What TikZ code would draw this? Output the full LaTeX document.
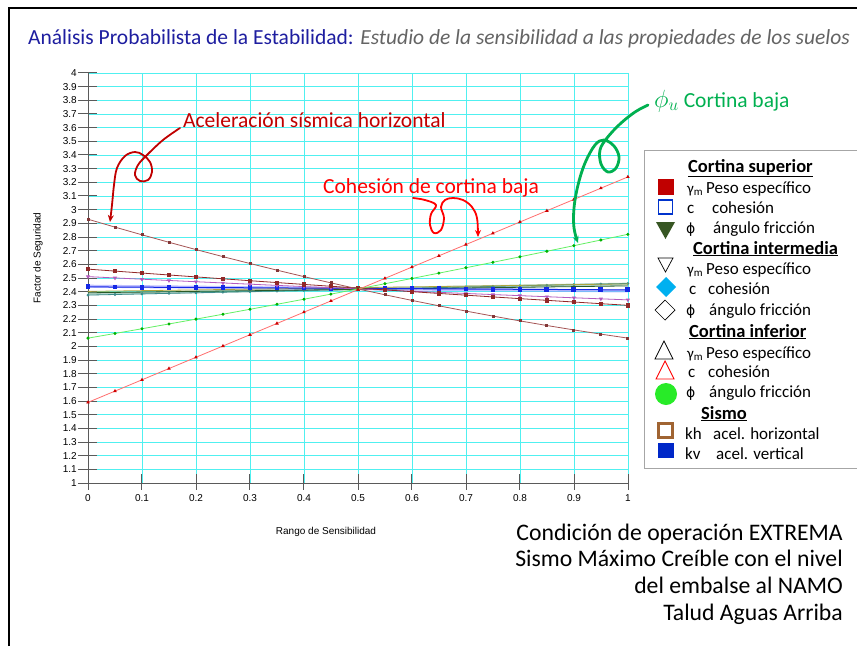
\documentclass[tikz,border=0pt]{standalone}
\usepackage{fontspec}
\setmainfont{Carlito}
\newfontfamily\arialf{Liberation Sans}
\newfontfamily\dejavuf{DejaVu Sans}
\usetikzlibrary{arrows.meta,plotmarks}
\definecolor{titleblue}{RGB}{30,30,160}
\definecolor{titlegray}{RGB}{100,100,100}
\definecolor{dred}{RGB}{192,0,0}
\definecolor{bred}{RGB}{255,0,0}
\definecolor{ogreen}{RGB}{0,176,80}
\definecolor{gridc}{RGB}{80,240,240}
\definecolor{axisc}{RGB}{90,90,90}
\definecolor{khc}{RGB}{165,85,85}
\definecolor{khm}{RGB}{130,55,55}
\definecolor{redl}{RGB}{255,110,110}
\definecolor{greenl}{RGB}{100,240,100}
\definecolor{maroonl}{RGB}{145,40,40}
\definecolor{purplel}{RGB}{180,90,190}
\definecolor{bluel}{RGB}{20,40,230}
\definecolor{lbluel}{RGB}{150,150,255}
\definecolor{teall}{RGB}{60,140,140}
\definecolor{dgreenl}{RGB}{40,90,40}
\definecolor{olivel}{RGB}{175,165,60}
\definecolor{sagel}{RGB}{120,180,160}
\definecolor{legred}{RGB}{192,0,0}
\definecolor{legblue}{RGB}{0,51,204}
\definecolor{legdgreen}{RGB}{55,86,35}
\definecolor{legcyan}{RGB}{0,176,240}
\definecolor{leggreen}{RGB}{40,235,40}
\definecolor{legbrown}{RGB}{160,100,50}
\definecolor{legkv}{RGB}{0,40,200}
\newcommand\gammam{{\fontsize{15}{17}\selectfont γ}{\fontsize{11}{12}\selectfont\raisebox{-2.5pt}{m}}}
\newcommand\phisym{{\dejavuf\fontsize{14}{17}\selectfont ϕ}}
\tikzset{
  gridline/.style={gridc, line width=0.8pt},
  axisline/.style={axisc, line width=1pt},
  ticklabel/.style={font=\arialf\fontsize{10}{11}\selectfont, inner sep=0pt},
  legtxt/.style={font=\fontsize{17}{19}\selectfont, anchor=base west, inner sep=0pt},
  leghead/.style={font=\bfseries\fontsize{18.5}{20}\selectfont, anchor=base west, inner sep=0pt},
  annot/.style={font=\fontsize{21.5}{24}\selectfont, anchor=base west, inner sep=0pt},
  condtxt/.style={font=\fontsize{23.7}{27}\selectfont, anchor=base east, inner sep=0pt},
  dataline/.style={line width=0.8pt},
  handarrow/.style={line width=1.8pt, line cap=round, line join=round, -{Stealth[length=7pt,width=6pt]}},
}
\begin{document}
\begin{tikzpicture}[x=1pt,y=-1pt]
\useasboundingbox (0,0) rectangle (857,646);
\fill[white] (0,0) rectangle (857,646);
% slide frame
\draw[line width=2pt] (9,646) -- (9,8) -- (857,8);
% title
\node[anchor=base west, inner sep=0pt, font=\fontsize{21.5}{24}\selectfont] (title) at (28,44)
  {\textcolor{titleblue}{Análisis Probabilista de la Estabilidad:} \textcolor{titlegray}{\itshape Estudio de la sensibilidad a las propiedades de los suelos}};
% plot
\begin{scope}[shift={(88,619.67)}, x=540pt, y=136.67pt]
  \foreach \i in {1,...,10} \draw[gridline] (\i/10,1) -- (\i/10,4);
  \foreach \j in {1,...,30} \draw[gridline] (0,1+\j/10) -- (1,1+\j/10);
  \foreach \j in {0,...,30} {
    \draw[axisline] ([xshift=-10pt]0,1+\j/10) -- ([xshift=9pt]0,1+\j/10);
    \pgfmathsetmacro\yv{1+\j/10}
    \node[ticklabel, anchor=east] (yl\j) at ([xshift=-11pt]0,\yv) {\pgfmathprintnumber[fixed,precision=1,assume math mode=true]{\yv}};
  }
  \foreach \i in {0,...,10} {
    \draw[axisline] ([yshift=9pt]\i/10,1) -- ([yshift=-7pt]\i/10,1);
    \pgfmathsetmacro\xv{\i/10}
    \node[ticklabel] (xl\i) at ([yshift=-15pt]\i/10,1) {\pgfmathprintnumber[fixed,precision=1,assume math mode=true]{\xv}};
  }
  \draw[axisline] (0,4) -- (0,1) -- (1,1);
  % near-flat lines
  \draw[sagel, line width=3pt, opacity=0.55] plot[domain=0:1, samples=3] (\x, {2.385+0.07*\x});
  \draw[lbluel, line width=3pt, opacity=0.6] plot[domain=0:1, samples=3] (\x, {2.44-0.035*\x});
  \draw[teall, dataline, mark=*, mark size=1pt, mark options={fill=teall}] plot[domain=0:1, samples=21] (\x, {2.375+0.085*\x});
  \draw[dgreenl, dataline] plot[domain=0:1, samples=3] (\x, {2.392+0.05*\x});
  \draw[olivel, dataline] plot[domain=0:1, samples=3] (\x, {2.402+0.055*\x});
  \draw[bluel, line width=1pt, mark=square*, mark size=1.9pt, mark options={fill=bluel, draw=bluel}] plot[domain=0:1, samples=21] (\x, {2.435-0.022*\x});
  % purple
  \draw[purplel, dataline, mark=triangle*, mark size=1.6pt, mark options={fill=purplel, rotate=180}] plot[domain=0:1, samples=21] (\x, {2.51-0.19*\x+0.02*\x*\x});
  % maroon
  \draw[maroonl, dataline, mark=square*, mark size=1.6pt, mark options={fill=maroonl}] plot[domain=0:1, samples=21] (\x, {2.565-0.29*\x+0.025*\x*\x});
  % kh brown
  \draw[khc, dataline, mark=square*, mark size=1pt, mark options={fill=khm, draw=khm}] plot[domain=0:1, samples=21] (\x, {2.93-1.17*\x+0.30*\x*\x});
  % green
  \draw[greenl, dataline, mark=*, mark size=1.1pt, mark options={fill=green!70!black, draw=green!70!black}] plot[domain=0:1, samples=21] (\x, {2.06+0.68*\x+0.08*\x*\x});
  % red
  \draw[redl, dataline, mark=triangle*, mark size=1.3pt, mark options={fill=red!80!black, draw=red!80!black}] plot[domain=0:1, samples=21] (\x, {1.59+1.65*\x});
\end{scope}
% axis titles
\node[ticklabel, rotate=90] (ytitle) at (38,258) {Factor de Seguridad};
\node[ticklabel] (xtitle) at (326,532) {Rango de Sensibilidad};
% annotations
\node[annot, text=dred] (acel) at (183,127) {Aceleración sísmica horizontal};
\node[annot, text=bred] (cohe) at (323,193) {Cohesión de cortina baja};
\node[annot, text=ogreen] (phiu) at (654,107) {\fontsize{26}{26}\selectfont$\phi_u$\hspace{5pt}\fontsize{21.5}{24}\selectfont Cortina baja};
\draw[handarrow, dred] plot[smooth, tension=0.6] coordinates {(180,128) (163,140) (147,155) (138,165) (135,175) (140,181) (148,180) (152,172) (150,162) (143,155) (135,152) (125,156) (117,168) (114,185) (112,205) (110,222)};
\draw[handarrow, bred] plot[smooth, tension=0.6] coordinates {(413,198) (425,200) (436,205) (431,214) (430,225) (434,233) (441,230) (444,218) (441,207) (445,200) (453,198) (463,200) (472,207) (477,218) (478,237)};
\draw[handarrow, ogreen, line width=2.8pt] plot[smooth, tension=0.6] coordinates {(648,105) (635,112) (620,124) (607,138) (600,150) (601,164) (608,172) (616,168) (619,157) (614,146) (604,140) (595,145) (585,163) (578,185) (574,208) (574,228) (578,243)};
% legend
\draw[gray!70, line width=0.9pt, fill=white] (644,150) rectangle (860,468);
\node[leghead] (hsup) at (688,172) {\underline{Cortina superior}};
\node[leghead] (hint) at (693,254) {\underline{Cortina intermedia}};
\node[leghead] (hinf) at (689,337) {\underline{Cortina inferior}};
\node[leghead] (hsis) at (701,419) {\underline{Sismo}};
% legend symbols
\fill[legred] (657.5,178.5) rectangle (673.5,194.5);
\draw[legblue, line width=1.8pt] (658.5,200) rectangle (672.5,214);
\fill[legdgreen] (656,222) -- (675,222) -- (665.5,239) -- cycle;
\draw[black, line width=0.7pt] (658,258) -- (673,258) -- (665.5,272) -- cycle;
\fill[legcyan] (666,277) -- (676,287) -- (666,297) -- (656,287) -- cycle;
\draw[black, line width=0.7pt] (665,300) -- (675,310) -- (665,320) -- (655,310) -- cycle;
\draw[black, line width=0.7pt] (664,341) -- (673,359) -- (655,359) -- cycle;
\draw[bred, line width=0.9pt] (665,361) -- (674,379) -- (656,379) -- cycle;
\fill[leggreen] (666,394) circle (11);
\draw[legbrown, line width=2.2pt] (658.5,423.5) rectangle (672.5,437.5);
\fill[legkv] (657.5,443) rectangle (673.5,458);
% legend texts (baselines)
\node[legtxt] (g1) at (687,193) {\gammam};
\node[legtxt] (t1) at (706,193) {Peso específico};
\node[legtxt] (c1) at (687,213) {c};
\node[legtxt] (t2) at (712,213) {cohesión};
\node[legtxt] (p1) at (686,233) {\phisym};
\node[legtxt] (t3) at (713,233) {ángulo fricción};
\node[legtxt] (g2) at (687,274) {\gammam};
\node[legtxt] (t4) at (706,274) {Peso específico};
\node[legtxt] (c2) at (689,294) {c};
\node[legtxt] (t5) at (708,294) {cohesión};
\node[legtxt] (p2) at (686,315) {\phisym};
\node[legtxt] (t6) at (709,315) {ángulo fricción};
\node[legtxt] (g3) at (687,358) {\gammam};
\node[legtxt] (t7) at (706,358) {Peso específico};
\node[legtxt] (c3) at (688,377) {c};
\node[legtxt] (t8) at (708,377) {cohesión};
\node[legtxt] (p3) at (686,397) {\phisym};
\node[legtxt] (t9) at (709,397) {ángulo fricción};
\node[legtxt] (k1) at (685,439) {kh};
\node[legtxt] (t10) at (713,439) {acel. horizontal};
\node[legtxt] (k2) at (685,459) {kv};
\node[legtxt] (t11) at (716,459) {acel. vertical};
% condition text
\node[condtxt] (cond1) at (843,540) {Condición de operación EXTREMA};
\node[condtxt] (cond2) at (843,566.7) {Sismo Máximo Creíble con el nivel};
\node[condtxt] (cond3) at (843,593.4) {del embalse al NAMO};
\node[condtxt] (cond4) at (843,620) {Talud Aguas Arriba};
\end{tikzpicture}
\end{document}
